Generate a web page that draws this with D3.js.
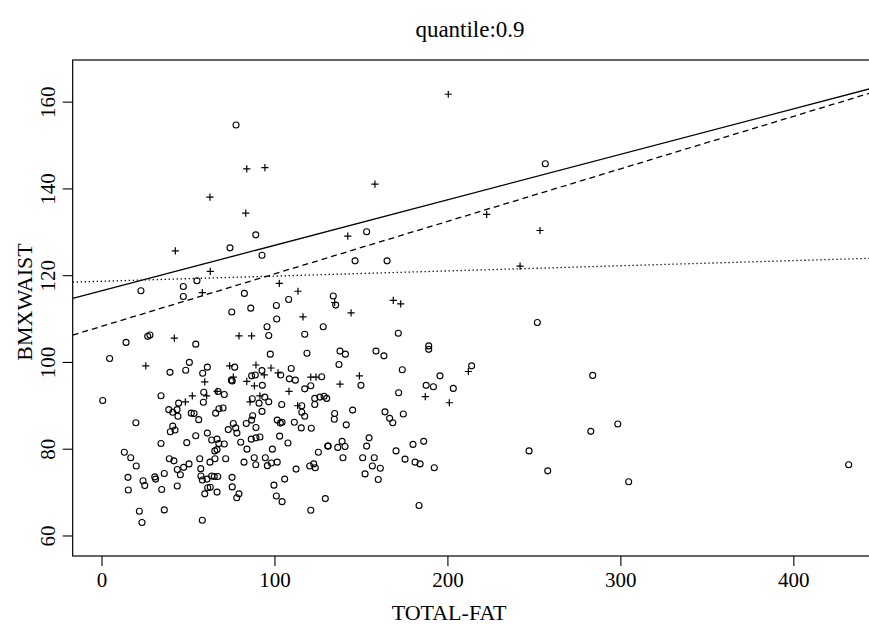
<!DOCTYPE html>
<html><head><meta charset="utf-8">
<script src="https://cdn.jsdelivr.net/npm/d3@7"></script>
<style>body{margin:0;background:#fff}svg text{font-family:"Liberation Serif","DejaVu Serif",serif;fill:#000}</style>
</head><body>
<svg id="c" width="869" height="625"></svg>
<script>
const title = "quantile:0.9";
const xLabel = "TOTAL-FAT";
const yLabel = "BMXWAIST";
const xTicks = [0, 100, 200, 300, 400];
const yTicks = [60, 80, 100, 120, 140, 160];

// group "+" points: [TOTAL-FAT, BMXWAIST]
const plusPoints = [
 [84.0,144.5],[94.5,144.8],[62.7,138.0],[83.4,134.3],[200.5,161.7],[158.1,141.0],[222.7,134.0],
 [42.7,125.6],[62.9,120.9],[58.3,116.0],[102.8,118.1],[113.6,116.3],[116.5,110.4],[79.5,106.0],[86.8,106.0],
 [42.1,105.5],[25.6,99.1],[74.1,99.1],[76.2,96.5],[59.7,95.4],[84.0,95.5],[89.3,99.3],[94.1,97.0],[98.0,98.6],
 [102.1,97.5],[121.0,96.5],[124.0,96.5],[88.4,94.5],
 [52.5,92.2],[66.8,93.2],[60.8,92.2],[48.5,90.8],[85.9,90.8],[91.6,92.2],[108.4,93.2],[113.4,89.9],
 [142.4,129.0],[253.5,130.3],[242.0,122.1],[134.8,113.7],[168.7,114.2],[173.0,113.4],[144.3,111.3],
 [212.1,97.8],[149.1,96.8],[137.9,94.9],[187.2,92.0],[201.1,90.6]
];

// group "o" points: [TOTAL-FAT, BMXWAIST]
const circlePoints = [
 [77.8,154.6],[256.6,145.7],
 [74.3,126.3],[89.2,129.3],[92.8,124.6],[55.2,118.7],[47.3,117.4],[47.3,115.1],[22.8,116.4],[82.6,115.8],
 [108.2,114.4],[101.1,113.0],[86.3,112.4],[75.3,111.5],[101.3,109.9],[95.7,108.1],[128.2,108.1],[117.5,106.4],
 [96.7,106.1],[26.7,105.9],[28.0,106.2],[14.2,104.5],[54.5,104.1],[4.7,100.8],[97.6,101.8],[118.8,102.0],
 [39.6,97.6],[48.7,98.1],[50.8,99.9],[61.2,98.8],[58.5,97.4],[77.0,98.8],[75.1,95.8],[75.6,95.6],[86.8,96.8],
 [88.9,97.0],[92.8,98.0],[103.6,97.0],[109.7,98.5],[108.6,96.1],[112.1,95.8],[127.3,96.6],[93.0,94.6],
 [121.0,94.5],[117.5,93.8],
 [0.7,91.1],[34.4,92.2],[59.1,93.0],[67.4,93.2],[71.0,92.5],[44.6,90.5],[58.9,90.7],[87.2,91.5],[94.4,91.9],
 [91.1,90.5],[96.7,90.8],[92.8,88.6],[115.8,89.9],[104.2,90.2],[123.3,91.6],[126.3,91.9],[128.7,92.1],
 [130.2,91.6],[123.3,90.2],[115.8,88.4],[117.5,87.5],[38.9,89.0],[41.2,88.4],[43.7,89.0],[44.2,87.5],
 [51.9,88.2],[53.5,88.1],[56.2,86.7],[66.0,88.2],[67.9,89.2],[70.3,89.4],[19.9,86.0],[41.2,85.2],[39.8,83.9],
 [42.5,84.3],[61.2,83.6],[54.5,83.0],[49.3,81.4],[34.4,81.2],[63.7,82.0],[66.8,82.2],[67.8,81.2],[71.0,81.1],
 [65.5,79.5],[66.8,79.8],[73.3,84.4],[76.2,85.8],[77.6,84.8],[78.3,83.6],[83.7,85.8],[86.8,86.6],[87.4,87.6],
 [89.3,84.9],[86.6,82.2],[89.3,82.5],[91.6,82.7],[80.5,81.5],[84.1,79.9],[101.6,86.6],[103.4,85.9],[104.4,86.1],
 [111.5,86.1],[115.5,84.8],[121.3,84.7],[103.0,82.9],[107.8,81.3],[98.8,79.9],[125.4,79.2],[130.8,80.6],
 [13.2,79.2],[16.9,77.9],[20.1,76.0],[39.2,77.7],[41.9,77.2],[56.8,77.7],[65.6,77.7],[62.7,76.9],[71.8,77.7],
 [82.4,76.9],[88.3,77.9],[89.2,76.3],[94.7,77.9],[95.9,76.1],[98.2,76.7],[101.6,76.9],[50.6,76.5],[47.5,75.7],
 [43.8,75.2],[45.6,74.0],[57.4,75.4],[36.3,74.3],[30.8,73.5],[31.3,73.0],[24.0,72.6],[25.0,71.5],[15.3,73.4],
 [15.5,70.5],[34.8,70.6],[43.8,71.4],[57.5,73.7],[58.3,72.8],[61.0,73.0],[63.7,73.7],[65.2,73.6],[67.2,73.6],
 [61.4,71.0],[62.9,71.1],[59.7,69.6],[66.8,70.0],[75.5,73.4],[75.6,71.2],[79.5,69.6],[78.2,68.7],[105.9,73.0],
 [112.5,75.3],[99.7,71.6],[101.1,69.1],[104.4,67.8],[120.4,76.0],[122.7,76.5],[123.6,75.6],[121.0,65.8],
 [129.4,68.5],[21.9,65.6],[23.4,63.0],[36.3,65.9],[58.3,63.5],
 [153.3,130.0],[146.6,123.3],[165.1,123.3],[134.0,115.2],[135.4,113.1],[171.6,106.6],[252.0,109.1],[137.9,102.5],
 [141.0,101.8],[158.7,102.5],[163.3,101.4],[189.2,103.7],[189.2,102.9],[137.3,99.4],[173.9,98.2],[214.0,99.1],
 [195.7,96.8],[150.0,94.6],[187.7,94.6],[191.9,94.3],[203.4,93.9],
 [171.8,92.9],[145.2,88.9],[134.8,88.1],[134.6,86.8],[141.5,85.5],[163.9,88.5],[166.6,87.0],[168.4,86.0],
 [174.5,88.0],[154.7,82.5],[153.3,80.6],[139.1,81.7],[131.1,80.6],[136.6,80.3],[140.8,80.5],[139.6,77.9],
 [151.0,77.9],[157.7,77.9],[156.6,76.0],[161.2,75.5],[152.4,74.2],[160.0,72.9],[170.3,79.5],[180.1,81.0],
 [186.3,81.7],[175.5,77.6],[181.3,76.9],[184.2,76.5],[192.4,75.6],[183.6,66.9],[247.2,79.5],[258.0,74.9],
 [284.0,96.9],[282.9,84.0],[298.5,85.7],[304.8,72.4],[432.0,76.3]
];

// fitted quantile lines: intercept, slope
const lineNames = ["fit1", "fit2", "fit3"];
const lineIntercepts = [116.4, 108.2, 118.6];
const lineSlopes = [0.1048, 0.121, 0.0119];
const lineDash = [null, "6,4", "1.3,2.7"];

const svg = d3.select("#c");
const L = 72.7, R = 878.6, T = 60, B = 556;
const xDomain = [-16.65, 449.3], yDomain = [55.27, 169.6];
const x = d3.scaleLinear().domain(xDomain).range([L, R]);
const y = d3.scaleLinear().domain(yDomain).range([B, T]);

svg.append("defs").append("clipPath").attr("id","clip")
  .append("rect").attr("x",L).attr("y",T).attr("width",R-L).attr("height",B-T);

const plot = svg.append("g").attr("clip-path","url(#clip)");

const lineGen = d3.line().x(d=>x(d[0])).y(d=>y(d[1]));
lineNames.forEach((n,i)=>{
  const pts = xDomain.map(v=>[v, lineIntercepts[i] + lineSlopes[i]*v]);
  plot.append("path").attr("d", lineGen(pts)).attr("fill","none")
    .attr("stroke","#000").attr("stroke-width",1.3)
    .attr("stroke-dasharray", lineDash[i]);
});

plot.selectAll("circle.o").data(circlePoints).join("circle")
  .attr("cx",d=>x(d[0])).attr("cy",d=>y(d[1])).attr("r",3)
  .attr("fill","none").attr("stroke","#000").attr("stroke-width",1.1);

const s = 3.6;
plot.selectAll("path.p").data(plusPoints).join("path")
  .attr("d",d=>{const cx=x(d[0]),cy=y(d[1]);return `M${cx-s},${cy}H${cx+s}M${cx},${cy-s}V${cy+s}`;})
  .attr("stroke","#000").attr("stroke-width",1.2).attr("fill","none");

svg.append("rect").attr("x",L).attr("y",T).attr("width",R-L).attr("height",B-T)
  .attr("fill","none").attr("stroke","#000").attr("stroke-width",1.2);

const xAxis = d3.axisBottom(x).tickValues(xTicks).tickSize(10).tickPadding(6).tickFormat(d3.format("d"));
const gx = svg.append("g").attr("transform",`translate(0,${B})`).call(xAxis);
gx.select(".domain").remove();
gx.selectAll("line").attr("stroke","#000").attr("stroke-width",1.1);
gx.selectAll("text").attr("font-size",21).attr("font-family","Liberation Serif");

const yAxis = d3.axisLeft(y).tickValues(yTicks).tickSize(10).tickFormat(d3.format("d"));
const gy = svg.append("g").attr("transform",`translate(${L},0)`).call(yAxis);
gy.select(".domain").remove();
gy.selectAll("line").attr("stroke","#000").attr("stroke-width",1.1);
gy.selectAll("text").attr("font-size",21).attr("font-family","Liberation Serif")
  .attr("text-anchor","middle").attr("x",null).attr("dy",null)
  .attr("transform","translate(-18,0) rotate(-90)");

svg.append("text").attr("x",470).attr("y",37).attr("text-anchor","middle")
  .attr("font-size",23).text(title);
svg.append("text").attr("x",449).attr("y",620).attr("text-anchor","middle")
  .attr("font-size",22).text(xLabel);
svg.append("text").attr("transform","translate(32,302) rotate(-90)").attr("text-anchor","middle")
  .attr("font-size",22).text(yLabel);
</script>
</body></html>
